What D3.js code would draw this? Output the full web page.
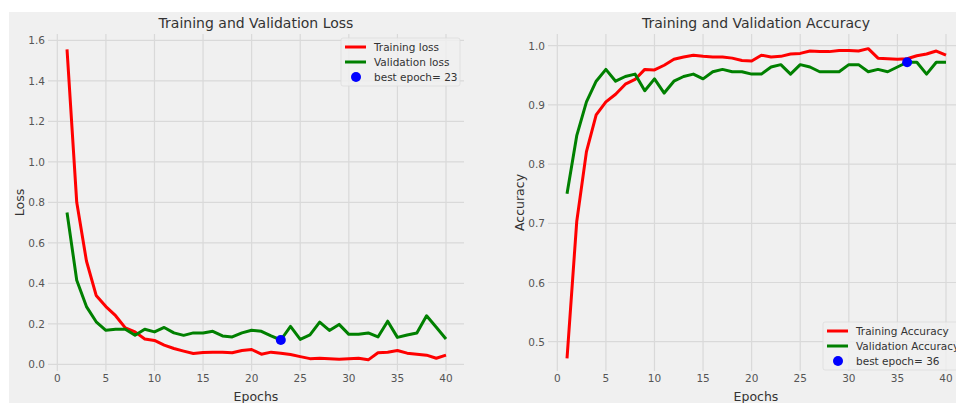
<!DOCTYPE html>
<html>
<head>
<meta charset="utf-8">
<script src="https://cdn.jsdelivr.net/npm/d3@7"></script>
<style>
  body { margin: 0; background: #fff; }
  text { font-family: "DejaVu Sans", sans-serif; }
</style>
</head>
<body>
<svg id="chart" width="956" height="403"></svg>
<script>
// epochs 1..40
const EPOCHS = d3.range(1, 41);

const TRAIN_LOSS = [1.555, 0.80, 0.51, 0.34, 0.285, 0.24, 0.18, 0.16, 0.125, 0.118,
  0.095, 0.078, 0.065, 0.053, 0.058, 0.06, 0.06, 0.057, 0.068, 0.073,
  0.05, 0.06, 0.055, 0.048, 0.038, 0.028, 0.03, 0.027, 0.025, 0.027,
  0.03, 0.022, 0.057, 0.06, 0.068, 0.055, 0.05, 0.045, 0.03, 0.045];
const VAL_LOSS = [0.75, 0.415, 0.285, 0.21, 0.168, 0.173, 0.173, 0.143, 0.173, 0.16,
  0.182, 0.155, 0.143, 0.155, 0.155, 0.163, 0.14, 0.135, 0.155, 0.168,
  0.163, 0.14, 0.12, 0.187, 0.123, 0.145, 0.208, 0.167, 0.197, 0.148,
  0.148, 0.155, 0.135, 0.213, 0.133, 0.145, 0.155, 0.24, 0.183, 0.125];
const TRAIN_ACC = [0.472, 0.703, 0.821, 0.883, 0.905, 0.918, 0.935, 0.943, 0.96, 0.959,
  0.967, 0.977, 0.981, 0.984, 0.982, 0.981, 0.981, 0.979, 0.975, 0.974,
  0.984, 0.981, 0.982, 0.986, 0.987, 0.991, 0.99, 0.99, 0.992, 0.992,
  0.991, 0.995, 0.979, 0.978, 0.977, 0.978, 0.983, 0.986, 0.991, 0.984];
const VAL_ACC = [0.75, 0.848, 0.905, 0.94, 0.96, 0.94, 0.948, 0.952, 0.924, 0.944,
  0.92, 0.94, 0.948, 0.952, 0.944, 0.956, 0.96, 0.956, 0.956, 0.952,
  0.952, 0.964, 0.968, 0.952, 0.968, 0.964, 0.956, 0.956, 0.956, 0.968,
  0.968, 0.956, 0.96, 0.956, 0.964, 0.972, 0.972, 0.952, 0.972, 0.972];

const BEST_LOSS_EPOCH = 23;
const BEST_ACC_EPOCH = 36;

const X_TICKS = [0, 5, 10, 15, 20, 25, 30, 35, 40];
const LOSS_TICKS = [0, 0.2, 0.4, 0.6, 0.8, 1.0, 1.2, 1.4, 1.6];
const ACC_TICKS = [0.5, 0.6, 0.7, 0.8, 0.9, 1.0];

const BG = '#f0f0f0';
const GRID = '#d9d9d9';
const TICK_COLOR = '#555';
const TEXT_COLOR = '#333';

const svg = d3.select('#chart');

// figure background (the picture is cropped with a white strip top/left)
svg.append('rect')
  .attr('x', 9).attr('y', 12)
  .attr('width', 956 - 9).attr('height', 403 - 12)
  .attr('fill', BG);

function drawPanel(opt) {
  const g = svg.append('g');
  const x = d3.scaleLinear().domain([0, 40]).range(opt.xRange);
  const y = d3.scaleLinear().domain(opt.yDomain).range(opt.yRange);

  // grid
  g.selectAll('.vgrid').data(X_TICKS).enter().append('line')
    .attr('x1', d => x(d)).attr('x2', d => x(d))
    .attr('y1', opt.box[1]).attr('y2', opt.box[3])
    .attr('stroke', GRID).attr('stroke-width', 1.2);
  g.selectAll('.hgrid').data(opt.yTicks).enter().append('line')
    .attr('x1', opt.box[0]).attr('x2', opt.box[2])
    .attr('y1', d => y(d)).attr('y2', d => y(d))
    .attr('stroke', GRID).attr('stroke-width', 1.2);

  // tick labels
  g.selectAll('.xt').data(X_TICKS).enter().append('text')
    .attr('x', d => x(d)).attr('y', opt.box[3] + 11)
    .attr('text-anchor', 'middle')
    .attr('font-size', 10.5).attr('fill', TICK_COLOR)
    .text(d => d);
  g.selectAll('.yt').data(opt.yTicks).enter().append('text')
    .attr('x', opt.box[0] - 3).attr('y', d => y(d) + 4)
    .attr('text-anchor', 'end')
    .attr('font-size', 10.5).attr('fill', TICK_COLOR)
    .text(d => d3.format('.1f')(d));

  // lines
  const line = d3.line().x((d, i) => x(EPOCHS[i])).y(d => y(d));
  g.append('path').datum(opt.train).attr('d', line)
    .attr('fill', 'none').attr('stroke', '#ff0000').attr('stroke-width', 3)
    .attr('stroke-linejoin', 'round');
  g.append('path').datum(opt.val).attr('d', line)
    .attr('fill', 'none').attr('stroke', '#008000').attr('stroke-width', 3)
    .attr('stroke-linejoin', 'round');
  g.append('circle')
    .attr('cx', x(opt.best)).attr('cy', y(opt.val[opt.best - 1]))
    .attr('r', 5).attr('fill', '#0000ff');

  // titles
  const cx = (opt.box[0] + opt.box[2]) / 2;
  g.append('text').attr('x', cx).attr('y', 28)
    .attr('text-anchor', 'middle').attr('font-size', 14).attr('fill', TEXT_COLOR)
    .text(opt.title);
  g.append('text').attr('x', cx).attr('y', 401)
    .attr('text-anchor', 'middle').attr('font-size', 12.5).attr('fill', TEXT_COLOR)
    .text('Epochs');
  const cy = (opt.box[1] + opt.box[3]) / 2;
  g.append('text')
    .attr('transform', `translate(${opt.yLabelX},${cy}) rotate(-90)`)
    .attr('text-anchor', 'middle').attr('font-size', 12.5).attr('fill', TEXT_COLOR)
    .text(opt.yLabel);

  // legend
  const L = opt.legend;
  g.append('rect')
    .attr('x', L.x).attr('y', L.y).attr('width', L.w).attr('height', 48)
    .attr('rx', 2).attr('fill', BG).attr('fill-opacity', 0.8)
    .attr('stroke', '#dcdcdc').attr('stroke-width', 0.8);
  const items = [
    {label: opt.labels[0], type: 'line', color: '#ff0000'},
    {label: opt.labels[1], type: 'line', color: '#008000'},
    {label: 'best epoch= ' + opt.best, type: 'dot', color: '#0000ff'}
  ];
  items.forEach((it, i) => {
    const yy = L.y + 9 + i * 15;
    if (it.type === 'line') {
      g.append('line').attr('x1', L.x + 4).attr('x2', L.x + 25)
        .attr('y1', yy).attr('y2', yy)
        .attr('stroke', it.color).attr('stroke-width', 3);
    } else {
      g.append('circle').attr('cx', L.x + 15).attr('cy', yy).attr('r', 5)
        .attr('fill', it.color);
    }
    g.append('text').attr('x', L.x + 33).attr('y', yy + 4)
      .attr('font-size', 10.5).attr('fill', TEXT_COLOR)
      .text(it.label);
  });
}

drawPanel({
  xRange: [57.3, 446], yDomain: [0, 1.6], yRange: [364.3, 40.3],
  box: [48, 34, 464, 371], yTicks: LOSS_TICKS,
  train: TRAIN_LOSS, val: VAL_LOSS, best: BEST_LOSS_EPOCH,
  title: 'Training and Validation Loss', yLabel: 'Loss', yLabelX: 24,
  labels: ['Training loss', 'Validation loss'],
  legend: {x: 341, y: 38, w: 119}
});

drawPanel({
  xRange: [557.3, 946], yDomain: [0.5, 1.0], yRange: [341.7, 45.7],
  box: [548, 34, 964, 371], yTicks: ACC_TICKS,
  train: TRAIN_ACC, val: VAL_ACC, best: BEST_ACC_EPOCH,
  title: 'Training and Validation Accuracy', yLabel: 'Accuracy', yLabelX: 524,
  labels: ['Training Accuracy', 'Validation Accuracy'],
  legend: {x: 823, y: 322, w: 140}
});
</script>
</body>
</html>
